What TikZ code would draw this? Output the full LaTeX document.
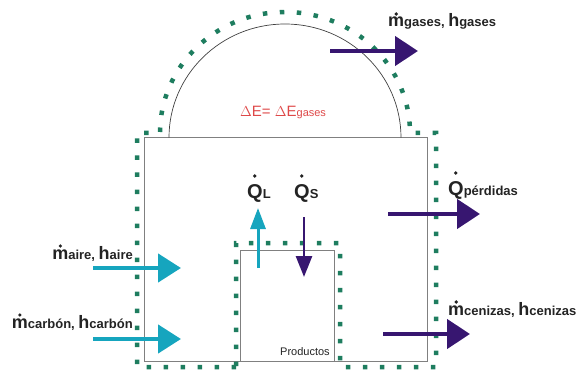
\documentclass[tikz,border=0pt]{standalone}
\usepackage{fontspec}
\setmainfont{Liberation Sans}
\usetikzlibrary{arrows.meta}

\definecolor{teal1}{RGB}{22,165,190}
\definecolor{indigo1}{RGB}{55,22,112}
\definecolor{dotgreen}{RGB}{30,125,95}
\definecolor{redtxt}{RGB}{222,72,72}
\definecolor{txt}{RGB}{35,35,35}

\newcommand{\bg}[1]{{\fontsize{18}{20}\selectfont #1}}
\newcommand{\bq}[1]{{\fontsize{20}{22}\selectfont #1}}
\newcommand{\sm}[1]{{\fontsize{13}{15}\selectfont #1}}

\begin{document}
\begin{tikzpicture}[x=1pt, y=1pt,
    wall/.style={draw=black!50, line width=0.9pt},
    bound/.style={draw=dotgreen, line width=4.5pt, dash pattern=on 4.5pt off 12.5pt},
    lbl/.style={inner sep=0pt, font=\bfseries, text=txt},
    rate/.style={fill=txt},
    flowin/.style={-{Triangle[length=23pt, width=28pt]}, teal1, line width=4.5pt},
    flowout/.style={-{Triangle[length=23pt, width=29pt]}, indigo1, line width=4.5pt},
    heatin/.style={-{Triangle[length=21pt, width=15pt]}, teal1, line width=3pt},
    heatout/.style={-{Triangle[length=21pt, width=16pt]}, indigo1, line width=2.6pt}
]
    \useasboundingbox (0,0) rectangle (579,373);

    \draw[wall] (144,12) rectangle (427,235.3);
    \draw[wall] (240.7,12) |- (334.3,123) -- (334.3,12);
    \draw[black!75, line width=0.7pt] (169,235.3) arc[start angle=180, end angle=0, x radius=116, y radius=113.7];

    \draw[bound] (236,6) -- (137,6) -- (137,240) -- (160,240)
        arc[start angle=180, end angle=0, x radius=125, y radius=121]
        -- (436,240) -- (436,6) -- (340,6) -- (340,130) -- (236,130) -- cycle;

    \node[inner sep=0pt, anchor=base west, text=redtxt] (dE) at (240,256)
        {{\fontsize{15}{17}\selectfont $\Delta$E= $\Delta$E}{\fontsize{11}{13}\selectfont gases}};
    \node[inner sep=0pt, anchor=base west, text=txt] (prod) at (280,18)
        {{\fontsize{11}{13}\selectfont Productos}};

    \node[lbl, anchor=base west] (gases) at (388,346) {\bg{m}\sm{gases, }\bg{h}\sm{gases}};
    \node[lbl, anchor=base west] (perd) at (448,178) {\bq{Q}\sm{pérdidas}};
    \node[lbl, anchor=base west] (ceniz) at (448,58) {\bg{m}\sm{cenizas, }\bg{h}\sm{cenizas}};
    \node[lbl, anchor=base east] (aire) at (133,114) {\bg{m}\sm{aire, }\bg{h}\sm{aire}};
    \node[lbl, anchor=base east] (carbon) at (133,45) {\bg{m}\sm{carbón, }\bg{h}\sm{carbón}};
    \node[lbl, anchor=base west] (QL) at (247,175) {\bq{Q}\sm{L}};
    \node[lbl, anchor=base west] (QS) at (294,175) {\bq{Q}\sm{S}};

    \fill[rate] ([shift={(8.2,13)}]gases.base west) circle (1.8);
    \fill[rate] ([shift={(8.2,13)}]ceniz.base west) circle (1.8);
    \fill[rate] ([shift={(8.2,13)}]aire.base west) circle (1.8);
    \fill[rate] ([shift={(8.2,13)}]carbon.base west) circle (1.8);
    \fill[rate] ([shift={(7.8,22)}]perd.base west) circle (1.9);
    \fill[rate] ([shift={(7.8,22)}]QL.base west) circle (1.9);
    \fill[rate] ([shift={(7.8,22)}]QS.base west) circle (1.9);

    \coordinate (gasA) at (330,322);
    \coordinate (gasB) at (418,322);
    \coordinate (perdA) at (388,159);
    \coordinate (perdB) at (480,159);
    \coordinate (cenA) at (383,39);
    \coordinate (cenB) at (470,39);
    \coordinate (aireA) at (93,105);
    \coordinate (aireB) at (181,105);
    \coordinate (carbA) at (93,34);
    \coordinate (carbB) at (181,34);
    \coordinate (qlA) at (258,105);
    \coordinate (qlB) at (258,165);
    \coordinate (qsA) at (304,156);
    \coordinate (qsB) at (304,96);

    \draw[flowout] (gasA) -- (gasB);
    \draw[flowout] (perdA) -- (perdB);
    \draw[flowout] (cenA) -- (cenB);
    \draw[flowin] (aireA) -- (aireB);
    \draw[flowin] (carbA) -- (carbB);
    \draw[heatin] (qlA) -- (qlB);
    \draw[heatout] (qsA) -- (qsB);
\end{tikzpicture}
\end{document}
